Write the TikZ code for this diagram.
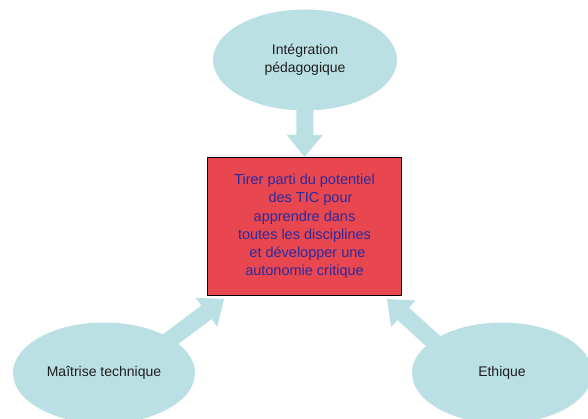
\documentclass[tikz,border=0pt]{standalone}
\usepackage{fontspec}
\setmainfont{Liberation Sans}
\usetikzlibrary{shapes.geometric,arrows.meta}
\definecolor{bubble}{HTML}{BBE0E3}
\definecolor{boxred}{HTML}{E8474F}
\definecolor{boxtext}{HTML}{2B2B9E}
\definecolor{labeltext}{HTML}{1E1E1E}
\begin{document}
\begin{tikzpicture}[x=1pt,y=-1pt,
  bubblenode/.style={ellipse, fill=bubble, minimum width=184pt, minimum height=101pt,
    inner sep=0pt, font=\fontsize{14}{17.5}\selectfont, text=labeltext, align=center},
  goalbox/.style={draw=black, line width=1.2pt, fill=boxred, minimum width=194pt,
    minimum height=138pt, inner sep=0pt, text=boxtext,
    font=\fontsize{14.5}{18.2}\selectfont, align=center},
  fatarrow/.style={draw=bubble, line width=17pt,
    -{Triangle[width=36pt,length=22pt,line width=0pt]}},
]
\useasboundingbox (0,0) rectangle (588,419);
\node[bubblenode] (integ) at (305,60) {Intégration\\pédagogique};
\node[bubblenode, minimum width=182pt] (maitrise) at (104,373) {Maîtrise technique};
\node[bubblenode, minimum width=180pt] (ethique) at (502,373) {Ethique};
\node[goalbox] (goal) at (304.5,226.5) {Tirer parti du potentiel\\\hspace*{12pt}des TIC pour\\apprendre dans\\toutes les disciplines\\\hspace*{6pt}et développer une\\autonomie critique};
\coordinate (tipL) at (224,299);
\coordinate (tipR) at (387,299);
\draw[fatarrow, shorten <=-8pt] (integ.south) -- (goal.north);
\draw[fatarrow, shorten <=-10pt] (maitrise.27) -- (tipL);
\draw[fatarrow, shorten <=-10pt] (ethique.155) -- (tipR);
\end{tikzpicture}
\end{document}
